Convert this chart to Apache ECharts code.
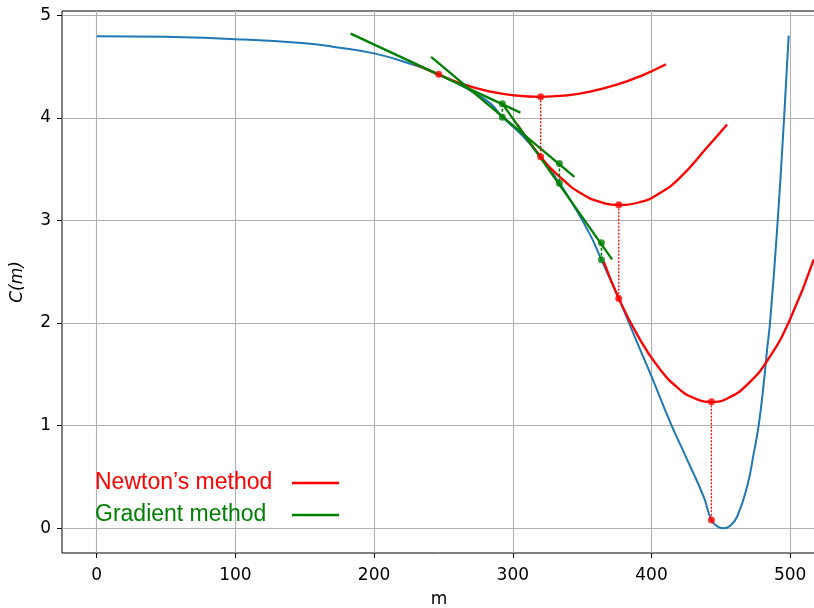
<!DOCTYPE html>
<html>
<head>
<meta charset="utf-8">
<script src="https://cdn.jsdelivr.net/npm/echarts@6/dist/echarts.min.js"></script>
<style>html,body{margin:0;padding:0;background:#fff}#c{width:814px;height:608px}</style>
</head>
<body>
<div id="c"></div>
<script>
// ---- data ----
const xTicks = [0, 100, 200, 300, 400, 500];
const yTicks = [0, 1, 2, 3, 4, 5];

const costM = [0, 50, 100, 150, 170, 200, 228.5, 246.6, 270, 283.8, 292.5, 306, 320.1, 333.6, 341.5, 355.9, 363.9, 376.4, 388.4, 400, 413.6, 425.7, 437.6, 443.2, 448, 452.1, 457, 461.7, 468.9, 473.7, 477.3, 480.9, 483.3, 485.7, 491, 495.6, 498.9];
const costC = [4.795, 4.788, 4.766, 4.725, 4.692, 4.627, 4.515, 4.425, 4.26, 4.14, 4.006, 3.84, 3.62, 3.363, 3.198, 2.857, 2.616, 2.24, 1.85, 1.48, 1.03, 0.67, 0.308, 0.081, 0.015, 0, 0.03, 0.113, 0.405, 0.73, 1.006, 1.41, 1.737, 2.04, 3.0, 4.0, 4.8];

const newtonQuad1 = [[228.5, 4.53], [246.6, 4.42], [265, 4.322], [285, 4.252], [302, 4.217], [320.1, 4.204], [338, 4.217], [355, 4.252], [375, 4.322], [393, 4.411], [410.5, 4.521]];
const newtonQuad2 = [[303.1, 3.938], [320.1, 3.62], [335, 3.41], [350, 3.257], [363, 3.18], [376.4, 3.152], [390, 3.172], [405, 3.258], [420, 3.41], [440, 3.71], [454.5, 3.935]];
const newtonQuad3 = [[365.5, 2.6], [376.4, 2.24], [390, 1.88], [405, 1.57], [420, 1.357], [432, 1.262], [443.2, 1.233], [455, 1.268], [470, 1.413], [485, 1.665], [500, 2.04], [517, 2.62]];

const newtonStepM = [320.1, 376.4, 443.2];
const newtonStepTop = [4.204, 3.152, 1.233];
const newtonStepBottom = [3.62, 2.24, 0.081];
const newtonStart = [246.6, 4.425];

const gradLine1 = [[183.1, 4.82], [305.5, 4.05]];
const gradLine2 = [[241.1, 4.593], [344.4, 3.425]];
const gradLine3 = [[292.3, 4.14], [371.6, 2.62]];
const gradStepM = [292.5, 333.6, 363.9];
const gradStepTop = [4.136, 3.555, 2.782];
const gradStepBottom = [4.006, 3.363, 2.616];

const newtonName = 'Newton\u2019s method';
const gradName = 'Gradient method';

// ---- chart ----
const RED = '#ff0000', GREEN = '#008000', BLUE = '#1f77b4';
const chart = echarts.init(document.getElementById('c'), null, {renderer: 'canvas'});

function lineSeries(name, data, color, width, type, smooth, z) {
  return {
    name: name, type: 'line', data: data, smooth: smooth,
    showSymbol: false, symbol: 'none', silent: true, z: z,
    itemStyle: {color: color},
    lineStyle: {color: color, width: width, type: type},
    clip: true
  };
}

const series = [];
series.push(lineSeries('cost', costM.map((m, i) => [m, costC[i]]), BLUE, 2, 'solid', 0.5, 2));
series.push(lineSeries(newtonName, newtonQuad1, RED, 2.3, 'solid', 0.5, 3));
series.push(lineSeries(newtonName, newtonQuad2, RED, 2.3, 'solid', 0.5, 3));
series.push(lineSeries(newtonName, newtonQuad3, RED, 2.3, 'solid', 0.5, 3));
[gradLine1, gradLine2, gradLine3].forEach(d => series.push(lineSeries(gradName, d, GREEN, 2.3, 'solid', false, 4)));
newtonStepM.forEach((m, i) => series.push(lineSeries(newtonName, [[m, newtonStepTop[i]], [m, newtonStepBottom[i]]], RED, 1.3, [2, 1.5], false, 5)));
gradStepM.forEach((m, i) => series.push(lineSeries(gradName, [[m, gradStepTop[i]], [m, gradStepBottom[i]]], GREEN, 1.6, [3, 2], false, 5)));

const newtonDots = [newtonStart];
newtonStepM.forEach((m, i) => { newtonDots.push([m, newtonStepTop[i]]); newtonDots.push([m, newtonStepBottom[i]]); });
const gradDots = [];
gradStepM.forEach((m, i) => { gradDots.push([m, gradStepTop[i]]); gradDots.push([m, gradStepBottom[i]]); });
series.push({name: newtonName, type: 'scatter', data: newtonDots, symbolSize: 7, itemStyle: {color: RED}, z: 6, silent: true});
series.push({name: gradName, type: 'scatter', data: gradDots, symbolSize: 7, itemStyle: {color: GREEN}, z: 6, silent: true});

const tickFont = {fontFamily: 'DejaVu Sans', fontSize: 17, color: '#000'};
const legendFont = {fontFamily: 'Liberation Sans', fontSize: 23, width: 180, align: 'left'};

chart.setOption({
  animation: false,
  backgroundColor: '#fff',
  grid: {left: 62, top: 11, width: 754, height: 542, show: true, borderColor: '#000', borderWidth: 1,
         containLabel: false, outerBoundsMode: 'none'},
  legend: {
    left: 95, top: 470, orient: 'vertical', align: 'right', padding: 0,
    itemWidth: 47, itemHeight: 2.5, itemGap: 6, icon: 'rect', selectedMode: false,
    formatter: name => (name === newtonName ? '{n|' : '{g|') + name + '}',
    textStyle: {
      fontFamily: 'Liberation Sans', fontSize: 23, lineHeight: 26, padding: [0, 12, 0, 0],
      rich: {
        n: Object.assign({color: RED}, legendFont),
        g: Object.assign({color: GREEN}, legendFont)
      }
    },
    data: [
      {name: newtonName, textStyle: {color: RED}},
      {name: gradName, textStyle: {color: GREEN}}
    ]
  },
  xAxis: {
    type: 'value', min: -25, max: 518.6,
    name: 'm', nameLocation: 'middle', nameGap: 38,
    nameTextStyle: tickFont,
    axisLine: {show: false, onZero: false},
    axisTick: {show: true, length: 5, customValues: xTicks, lineStyle: {color: '#000', width: 1}},
    axisLabel: {customValues: xTicks, margin: 14, ...tickFont},
    splitLine: {show: true, lineStyle: {color: '#b0b0b0', width: 1.1}}
  },
  yAxis: {
    type: 'value', min: -0.24, max: 5.04,
    name: 'C(m)', nameLocation: 'middle', nameGap: 36, nameRotate: 90,
    nameTextStyle: {fontFamily: 'DejaVu Sans', fontSize: 17, fontStyle: 'italic', color: '#000'},
    axisLine: {show: false, onZero: false},
    axisTick: {show: true, length: 5, customValues: yTicks, lineStyle: {color: '#000', width: 1}},
    axisLabel: {customValues: yTicks, margin: 11, ...tickFont},
    splitLine: {show: true, lineStyle: {color: '#b0b0b0', width: 1.1}}
  },
  series: series
});
</script>
</body>
</html>
